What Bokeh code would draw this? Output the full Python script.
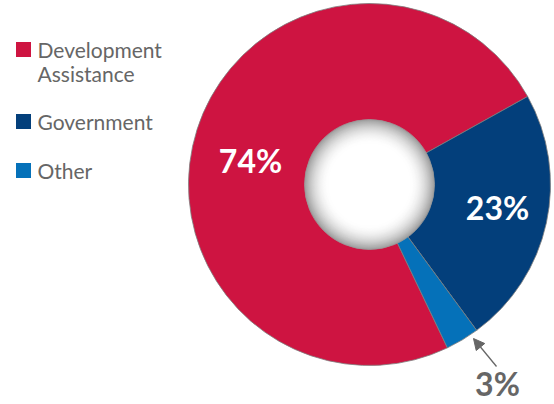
import numpy as np
from bokeh.plotting import figure
from bokeh.models import Range1d, Arrow, NormalHead
from bokeh.core.properties import value
from bokeh.embed import file_html
from bokeh.resources import INLINE

# ---- data ----
categories = ["Development\nAssistance", "Government", "Other"]
shares = [74, 23, 3]
colors = ["#CE1441", "#033F7B", "#0571B9"]
pct_labels = ["74%", "23%", "3%"]
draw_order = [0, 2, 1]  # anticlockwise sequence of slices

W, H = 554, 404
p = figure(width=W, height=H, x_range=Range1d(0, W), y_range=Range1d(0, H),
           output_backend="svg", toolbar_location=None, min_border=0)
p.axis.visible = False
p.grid.visible = False
p.outline_line_color = None
p.background_fill_color = "white"
p.border_fill_color = "white"

def Y(py):
    return H - py

cx, cy = 369, Y(184)
R_out, R_in = 181, 65
start_deg = 29.1

total = float(sum(shares))
angle = np.deg2rad(start_deg)
starts, ends = [0.0] * 3, [0.0] * 3
for i in draw_order:
    a = shares[i] / total * 2 * np.pi
    starts[i] = angle
    ends[i] = angle + a
    angle += a

p.wedge(x=[cx] * 3, y=[cy] * 3, radius=R_out, start_angle=starts, end_angle=ends,
        fill_color=colors, line_color="#7d7d7d", line_width=0.8)

# shaded inner hole (radial gradient approximation)
radii = np.arange(R_in, 39, -1)
for r in radii:
    t = (R_in - r) / (R_in - 40)
    g = int(round(255 - (255 - 160) * (1 - t) ** 2))
    p.circle(x=[cx], y=[cy], radius=r, fill_color=(g, g, g), line_color=None)
p.circle(x=[cx], y=[cy], radius=40, fill_color="white", line_color=None)
p.circle(x=[cx], y=[cy], radius=R_in, fill_color=None, line_color="#9a9a9a", line_width=0.8)

# percentage labels
lbl = dict(text_font=value("Lato"), text_font_style="bold", text_font_size="32px",
           text_align="center", text_baseline="middle")
p.text(x=[250], y=[Y(160)], text=[pct_labels[0]], text_color="white", **lbl)
p.text(x=[497], y=[Y(207)], text=[pct_labels[1]], text_color="white", **lbl)
p.text(x=[497], y=[Y(383)], text=[pct_labels[2]], text_color="#666666", **lbl)
p.add_layout(Arrow(end=NormalHead(size=11, fill_color="#666666", line_color="#666666"),
                   x_start=496, y_start=Y(366), x_end=473, y_end=Y(338),
                   line_color="#666666", line_width=1.3))

# legend
leg_y = [49, 121, 170]
p.rect(x=[23] * 3, y=[Y(v) for v in leg_y], width=15, height=15,
       fill_color=colors, line_color=None)
lx, ly, lt = [], [], []
for cat, yy in zip(categories, leg_y):
    for k, line in enumerate(cat.split("\n")):
        lx.append(37)
        ly.append(Y(yy + k * 24))
        lt.append(line)
p.text(x=lx, y=ly, text=lt, text_font=value("Lato"), text_font_size="21px",
       text_color="#666666", text_align="left", text_baseline="middle")

open("out.html", "w").write(file_html(p, INLINE))
